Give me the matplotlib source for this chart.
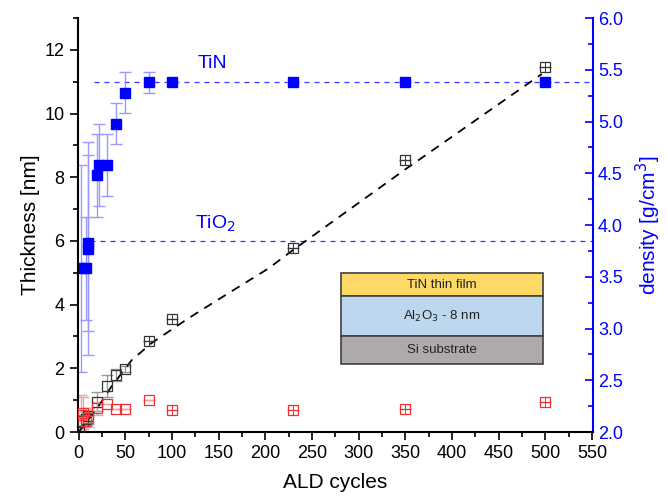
import matplotlib
matplotlib.use("Agg")
import matplotlib.pyplot as plt
from matplotlib.patches import Rectangle
import numpy as np

plt.rcParams['font.family'] = ['Liberation Sans', 'DejaVu Sans']

# Thickness (black, left axis)
thk_x = [0, 5, 8, 10, 20, 30, 40, 50, 75, 100, 230, 350, 500]
thk_y = [0.0, 0.35, 0.42, 0.5, 0.95, 1.44, 1.79, 1.97, 2.85, 3.54, 5.77, 8.53, 11.45]
thk_err = [0.1, 0.2, 0.2, 0.25, 0.3, 0.35, 0.2, 0.1, 0.0, 0.0, 0.0, 0.0, 0.0]

# Second thickness series (red, left axis)
red_x = [3, 5, 8, 10, 20, 30, 40, 50, 75, 100, 230, 350, 500]
red_y = [0.55, 0.6, 0.35, 0.45, 0.75, 0.88, 0.72, 0.73, 1.0, 0.68, 0.69, 0.73, 0.93]
red_err = [0.6, 0.5, 0.35, 0.3, 0.2, 0.0, 0.0, 0.0, 0.0, 0.0, 0.0, 0.0, 0.0]

# Density (blue, right axis)
den_x = [3, 8, 10, 10, 20, 22, 30, 40, 50, 75, 100, 230, 350, 500]
den_y = [3.58, 3.58, 3.77, 3.83, 4.48, 4.58, 4.58, 4.98, 5.28, 5.38, 5.38, 5.38, 5.38, 5.38]
den_err = [1.0, 0.5, 1.03, 0.85, 0.4, 0.4, 0.3, 0.2, 0.2, 0.1, 0.0, 0.0, 0.0, 0.0]

# Fit curve
fit_x = [0, 20, 35, 57, 78, 117, 160, 203, 229, 350, 496]
fit_y = [0.0, 0.75, 1.42, 2.26, 2.79, 3.56, 4.35, 5.13, 5.70, 8.25, 11.24]

# Reference densities
ref_names = ['TiN', 'TiO$_2$']
ref_vals = [5.38, 3.85]
ref_start = [16, 12]
ref_label_x = [143, 147]
ref_label_y = [5.56, 4.01]

x_ticks = list(range(0, 551, 50))
y_ticks = list(range(0, 13, 2))
y2_ticks = [2.0, 2.5, 3.0, 3.5, 4.0, 4.5, 5.0, 5.5, 6.0]

fig = plt.figure(figsize=(6.68, 4.98), dpi=100)
ax = fig.add_axes([0.1163, 0.1325, 0.7715, 0.8313])
ax2 = ax.twinx()

blue = '#0000FF'
ax.set_zorder(ax2.get_zorder() + 1)
ax.patch.set_visible(False)

# black
ax.errorbar(thk_x, thk_y, yerr=thk_err, fmt='none', ecolor='#999999', elinewidth=1, capsize=4, zorder=2)
ax.plot(fit_x, fit_y, linestyle=(0, (5, 4)), color='black', lw=1.3, zorder=3)
ax.plot(thk_x, thk_y, 's', mfc='none', mec='#333333', ms=7, mew=0.9, zorder=4)
ax.plot(thk_x[8:], thk_y[8:], '+', color='#333333', ms=7, mew=0.7, zorder=4)

# red
ax.errorbar(red_x, red_y, yerr=red_err, fmt='none', ecolor='#F5A0A0', elinewidth=1, capsize=4, zorder=2)
ax.plot(red_x, red_y, 's', mfc='none', mec='#F03030', ms=7, mew=0.9, zorder=4)
ax.plot(red_x[9:], red_y[9:], '+', color='#F03030', ms=7, mew=0.7, zorder=4)

# blue density
ax2.errorbar(den_x, den_y, yerr=den_err, fmt='none', ecolor='#9999FF', elinewidth=1, capsize=4, zorder=2)
ax2.plot(den_x, den_y, 's', color=blue, ms=7, zorder=4)
for v, s in zip(ref_vals, ref_start):
    ax2.hlines(v, s, 551, colors='#3333FF', linestyles=(0, (4, 4)), lw=0.9, zorder=1)
for name, lx, ly in zip(ref_names, ref_label_x, ref_label_y):
    ax2.text(lx, ly, name, color=blue, fontsize=14, ha='center', va='center')

ax.set_xlim(-1, 551)
ax.set_ylim(0, 13)
ax2.set_ylim(2.0, 6.0)

ax.set_xticks(x_ticks)
ax.set_xticks(np.arange(25, 551, 50), minor=True)
ax.set_yticks(y_ticks)
ax.set_yticks(np.arange(1, 14, 2), minor=True)
ax2.set_yticks(y2_ticks)
ax2.set_yticks(np.arange(2.25, 6.0, 0.5), minor=True)
ax2.set_yticklabels([f'{v:.1f}' for v in y2_ticks])

ax.tick_params(axis='both', which='major', direction='out', length=6, width=1.2, labelsize=13)
ax.tick_params(axis='both', which='minor', direction='out', length=3.5, width=1.2)
ax2.tick_params(axis='y', which='major', direction='in', length=6, width=1.2, colors=blue, labelsize=13)
ax2.tick_params(axis='y', which='minor', direction='in', length=3.5, width=1.2, colors=blue)

for a in (ax, ax2):
    a.spines['top'].set_visible(False)
ax.spines['right'].set_visible(False)
ax2.spines['left'].set_visible(False)
ax2.spines['bottom'].set_visible(False)
ax2.spines['right'].set_color(blue)
ax2.spines['right'].set_linewidth(1.5)
ax.spines['left'].set_linewidth(1.5)
ax.spines['bottom'].set_linewidth(1.5)

ax.set_xlabel('ALD cycles', fontsize=15, labelpad=8)
ax.set_ylabel('Thickness [nm]', fontsize=15, labelpad=3)
ax2.set_ylabel('density [g/cm$^3$]', fontsize=15, color=blue, labelpad=8)

# Inset stack diagram
layers = [
    (0.3285, 0.384, '#FFD966', 'TiN thin film'),
    (0.232, 0.3285, '#BDD7EE', 'Al$_2$O$_3$ - 8 nm'),
    (0.164, 0.232, '#AEAAAA', 'Si substrate'),
]
x0, x1 = 0.511, 0.902
for y0, y1, col, lab in layers:
    ax.add_patch(Rectangle((x0, y0), x1 - x0, y1 - y0, transform=ax.transAxes,
                           facecolor=col, edgecolor='#404040', lw=1.2, zorder=6))
    ax.text((x0 + x1) / 2, (y0 + y1) / 2, lab, transform=ax.transAxes, ha='center', va='center',
            fontsize=9.5, color='#222222', zorder=7,
            family=['Liberation Sans Narrow', 'Liberation Sans', 'DejaVu Sans'])

fig.savefig('out.png', dpi=100)
